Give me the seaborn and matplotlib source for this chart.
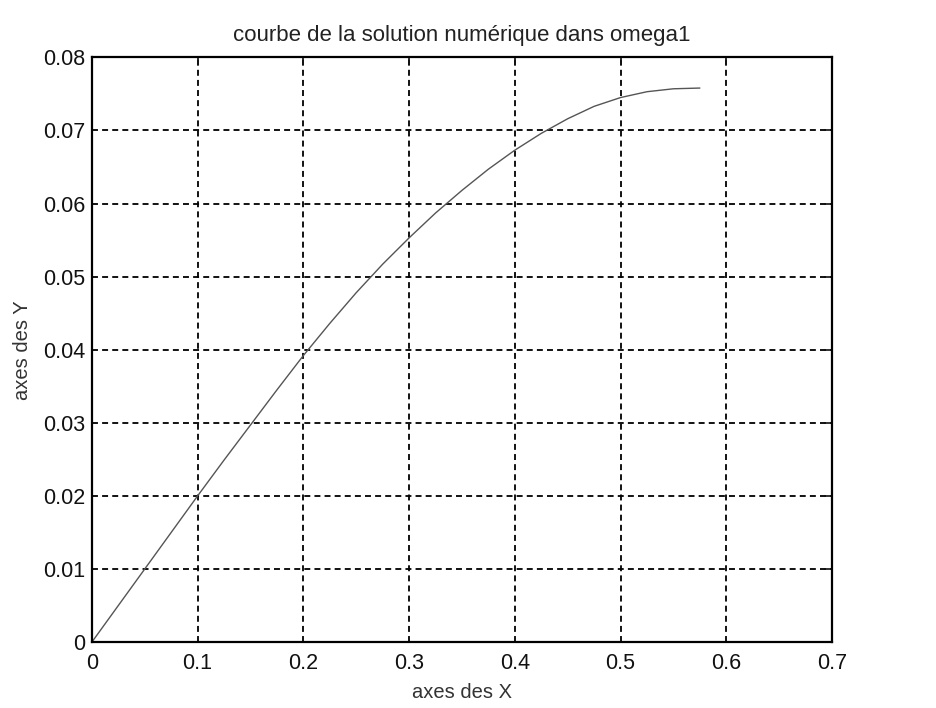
import matplotlib
matplotlib.use("Agg")
import matplotlib.pyplot as plt
import seaborn as sns
import pandas as pd

x_vals = [0.0, 0.025, 0.05, 0.075, 0.1, 0.125, 0.15, 0.175, 0.2, 0.225, 0.25, 0.275,
          0.3, 0.325, 0.35, 0.375, 0.4, 0.425, 0.45, 0.475, 0.5, 0.525, 0.55, 0.575]
y_vals = [0.0, 0.0050, 0.0100, 0.0150, 0.0200, 0.0249, 0.0297, 0.0345, 0.0392, 0.0436,
          0.0478, 0.0517, 0.0553, 0.0587, 0.0618, 0.0647, 0.0673, 0.0696, 0.0716, 0.0733,
          0.0745, 0.0753, 0.0757, 0.0758]
x_ticks = [0, 0.1, 0.2, 0.3, 0.4, 0.5, 0.6, 0.7]
x_tick_labels = ["0", "0.1", "0.2", "0.3", "0.4", "0.5", "0.6", "0.7"]
y_ticks = [0, 0.01, 0.02, 0.03, 0.04, 0.05, 0.06, 0.07, 0.08]
y_tick_labels = ["0", "0.01", "0.02", "0.03", "0.04", "0.05", "0.06", "0.07", "0.08"]
title = "courbe de la solution numérique dans omega1"
x_label = "axes des X"
y_label = "axes des Y"

sns.set_theme(style="white")
plt.rcParams["font.family"] = ["Liberation Sans", "DejaVu Sans"]

df = pd.DataFrame({"x": x_vals, "y": y_vals})

fig = plt.figure(figsize=(9.37, 7.08), dpi=100)
ax = fig.add_axes([0.098, 0.093, 0.79, 0.826])

sns.lineplot(data=df, x="x", y="y", ax=ax, color="#555555", linewidth=1.0,
             sort=False, estimator=None)

ax.set_xlim(0, 0.7)
ax.set_ylim(0, 0.08)
ax.set_xticks(x_ticks)
ax.set_xticklabels(x_tick_labels)
ax.set_yticks(y_ticks)
ax.set_yticklabels(y_tick_labels)
ax.grid(True, color="black", linestyle=(0, (3.3, 2.3)), linewidth=1.3)
ax.tick_params(axis="both", direction="in", top=True, right=True, length=6, width=1.2,
               labelsize=15.5, colors="#111111")
ax.tick_params(axis="x", pad=8)
ax.tick_params(axis="y", pad=5)
for s in ax.spines.values():
    s.set_color("black")
    s.set_linewidth(1.6)

ax.set_title(title, fontsize=16, color="#222222", pad=12)
ax.set_xlabel(x_label, fontsize=14.5, color="#333333", labelpad=6)
ax.set_ylabel(y_label, fontsize=14.5, color="#333333", labelpad=8)

fig.savefig("out.png", dpi=100, facecolor="white")
